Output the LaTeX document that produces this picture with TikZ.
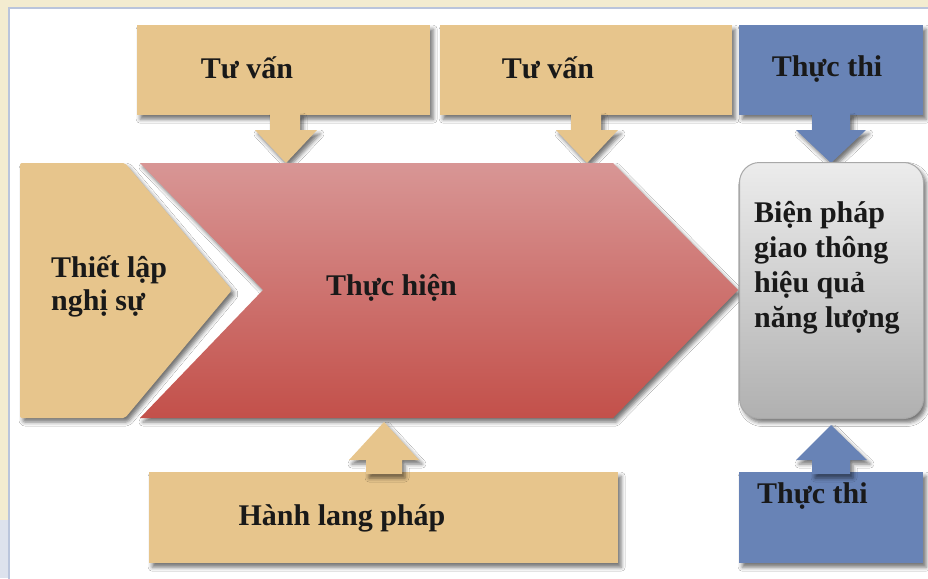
\documentclass[tikz,border=0pt]{standalone}
\usepackage{fontspec}
\setmainfont{Liberation Serif}
\usetikzlibrary{shadows.blur}
\definecolor{cream}{RGB}{243,236,208}
\definecolor{framec}{RGB}{186,197,220}
\definecolor{paleblue}{RGB}{221,226,237}
\definecolor{tanc}{RGB}{231,197,140}
\definecolor{bluec}{RGB}{104,131,182}
\definecolor{redtop}{RGB}{216,150,149}
\definecolor{redbot}{RGB}{195,80,74}
\definecolor{graytop}{RGB}{236,236,236}
\definecolor{graymid}{RGB}{220,220,220}
\definecolor{graybot}{RGB}{176,176,176}
\definecolor{grayedge}{RGB}{168,168,168}
\definecolor{inkc}{RGB}{25,25,25}
\begin{document}
\begin{tikzpicture}[x=1pt,y=-1pt,
  shad/.style={blur shadow={shadow xshift=3pt,shadow yshift=-4pt,shadow blur radius=4pt,shadow opacity=55}},
  tanbox/.style={fill=tanc,draw=none,shad,inner sep=0pt,anchor=north west},
  bluebox/.style={fill=bluec,draw=none,shad,inner sep=0pt,anchor=north west},
  tanarrow/.style={fill=tanc,draw=none,shad},
  bluearrow/.style={fill=bluec,draw=none,shad},
  lbl/.style={font=\fontsize{30}{34}\selectfont\bfseries,text=inkc,inner sep=0pt,align=left}
]
\useasboundingbox (0,0) rectangle (928,578);
% background and frame
\fill[cream] (0,0) rectangle (928,578);
\fill[paleblue] (0,520) rectangle (9,578);
\fill[white] (9,8) rectangle (929,579);
\draw[framec,line width=1.5pt] (9,579) -- (9,8) -- (929,8);

% top boxes
\node[tanbox,minimum width=293pt,minimum height=90pt] (tv1) at (137,25) {};
\node[tanbox,minimum width=292pt,minimum height=90pt] (tv2) at (440,25) {};
\node[bluebox,minimum width=184pt,minimum height=90pt] (tt1) at (739,25) {};

% down arrows
\path[tanarrow] (270,113) -- (300,113) -- (300,130) -- (317,130) -- (286,163) -- (255,130) -- (270,130) -- cycle;
\path[tanarrow] (571,113) -- (601,113) -- (601,130) -- (618,130) -- (587,163) -- (556,130) -- (571,130) -- cycle;
\path[bluearrow] (812,113) -- (850,113) -- (850,130) -- (866,130) -- (831,163) -- (796,130) -- (812,130) -- cycle;

% left chevron
\path[tanarrow,rounded corners=2pt] (20,163) -- (125,163) -- (232,290) -- (125,418) -- (20,418) -- cycle;
% main red chevron
\path[shad,top color=redtop,bottom color=redbot] (140,163) -- (613,163) -- (738,290) -- (613,418) -- (140,418) -- (263,290) -- cycle;

% result box
\node[anchor=north west,rounded corners=20pt,draw=grayedge,line width=1pt,
  top color=graytop,middle color=graymid,bottom color=graybot,shad,
  minimum width=184pt,minimum height=256pt,inner sep=0pt] (res) at (739,162) {};

% bottom boxes
\node[tanbox,minimum width=469pt,minimum height=91pt] (hl) at (149,472) {};
\node[bluebox,minimum width=184pt,minimum height=91pt] (tt2) at (739,472) {};

% up arrows
\path[tanarrow] (366,474) -- (402,474) -- (402,460) -- (419,460) -- (384,422) -- (349,460) -- (366,460) -- cycle;
\path[bluearrow] (812,474) -- (850,474) -- (850,460) -- (867,460) -- (831,425) -- (796,460) -- (812,460) -- cycle;

% labels
\node[lbl,anchor=base] (tv1t) at (247,78) {Tư vấn};
\node[lbl,anchor=base] (tv2t) at (548,78) {Tư vấn};
\node[lbl,anchor=base] (tt1t) at (827,77) {Thực thi};
\node[lbl,anchor=base west,font=\fontsize{30}{33}\selectfont\bfseries] (tlt) at (51,310) {Thiết lập\\nghị sự};
\node[lbl,anchor=base] (tht) at (391.5,295) {Thực hiện};
\node[lbl,anchor=base west,font=\fontsize{30}{35}\selectfont\bfseries] (rest) at (754,327) {Biện pháp\\giao thông\\hiệu quả\\năng lượng};
\node[lbl,anchor=base] (hlt) at (342,525) {Hành lang pháp};
\node[lbl,anchor=base west] (tt2t) at (757,503) {Thực thi};
\end{tikzpicture}
\end{document}
